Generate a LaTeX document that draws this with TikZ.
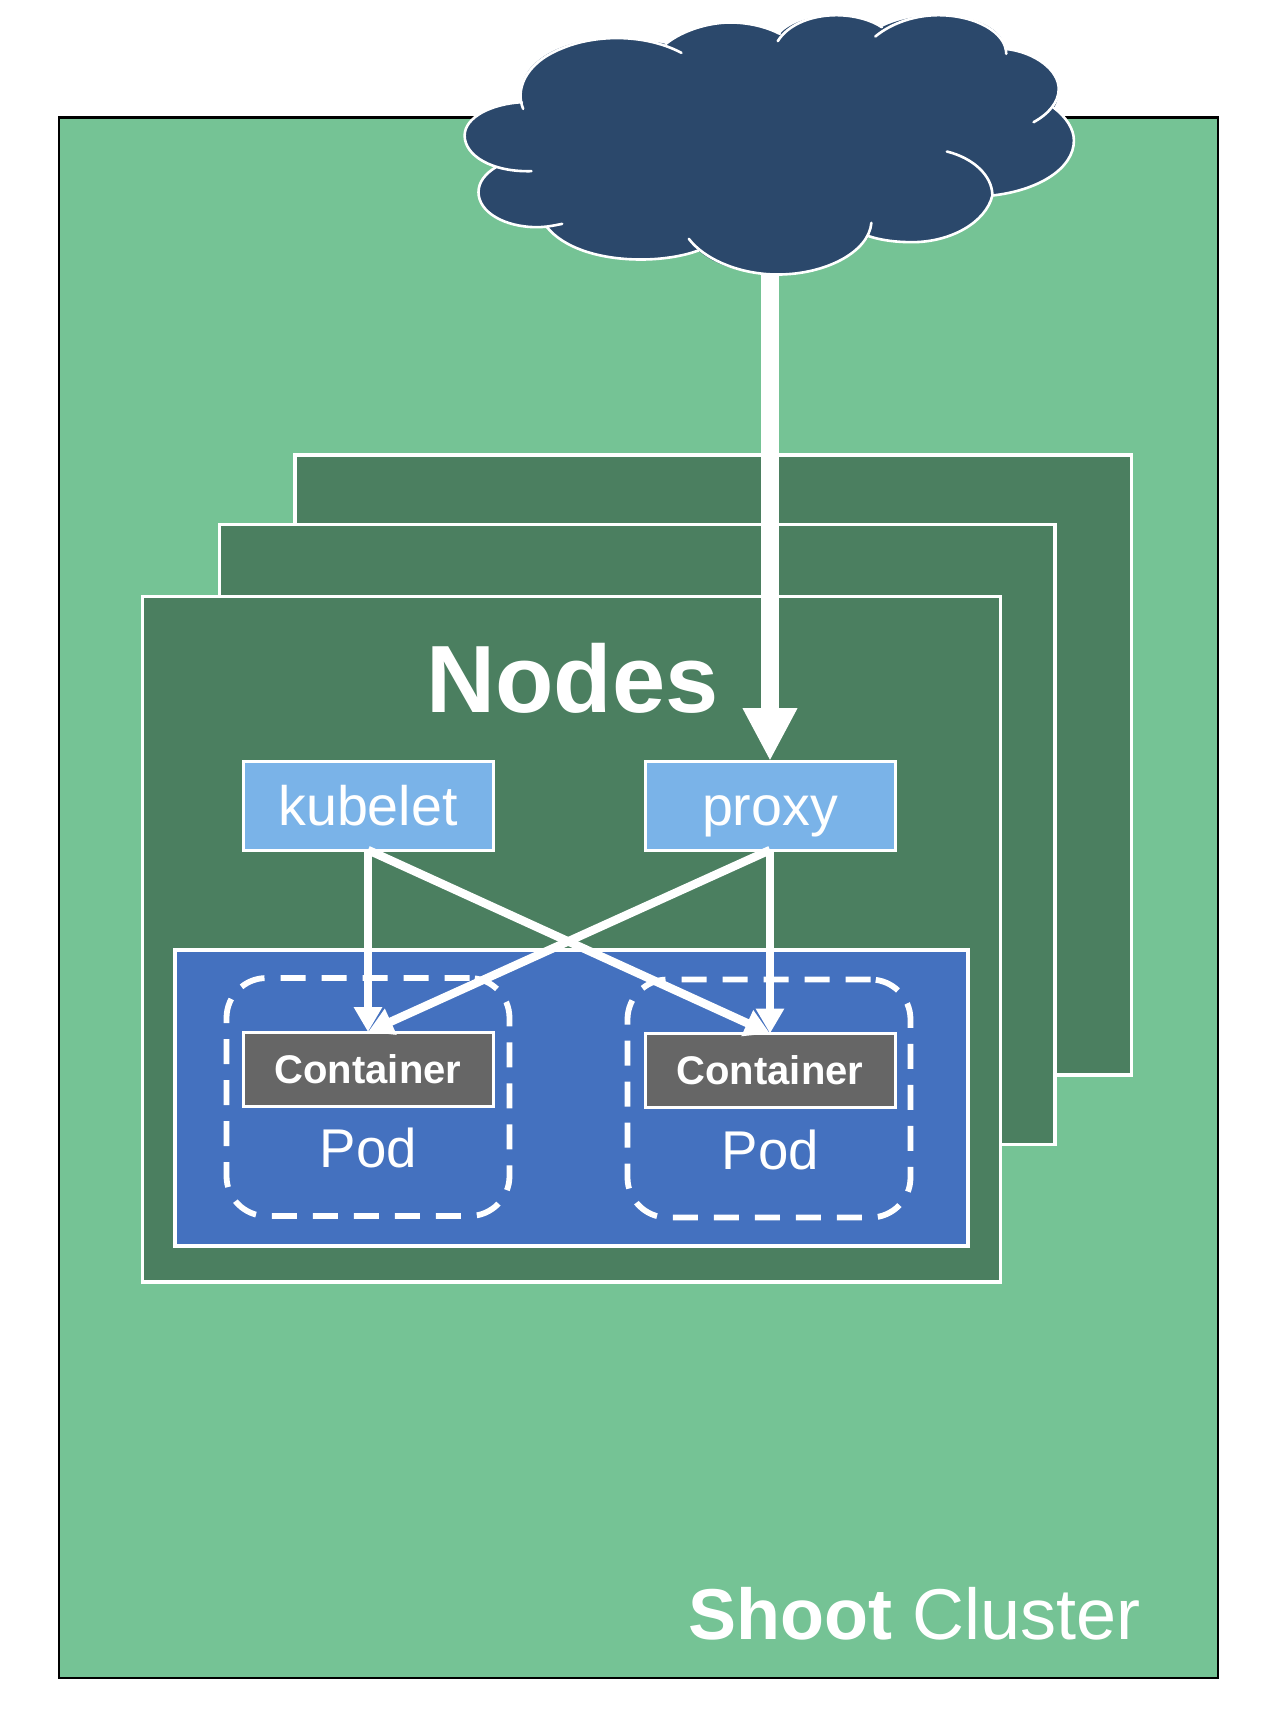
\documentclass[tikz,border=0pt]{standalone}
\usepackage{fontspec}
\setmainfont{Liberation Sans}
\usetikzlibrary{arrows.meta}
\definecolor{shootgreen}{HTML}{75C395}
\definecolor{nodegreen}{HTML}{4B7F60}
\definecolor{podblue}{HTML}{4471BF}
\definecolor{lightblue}{HTML}{7AB3E8}
\definecolor{contgrey}{HTML}{666666}
\definecolor{cloudblue}{HTML}{2B486B}
\tikzset{
  panel/.style={draw=white,line width=1.7pt,inner sep=0pt,outer sep=0pt,fill=nodegreen},
  svcbox/.style={draw=white,line width=1.5pt,fill=lightblue,inner sep=0pt,outer sep=0pt,minimum width=125pt,minimum height=44.5pt,text=white,font=\fontsize{27.8}{30}\selectfont,text height=20pt,text depth=0pt},
  contbox/.style={draw=white,line width=1.5pt,fill=contgrey,inner sep=0pt,outer sep=0pt,minimum width=125pt,minimum height=37pt,text=white,font=\fontsize{20}{22}\selectfont\bfseries,text height=14.2pt,text depth=0pt},
  podbox/.style={draw=white,line width=2.9pt,rounded corners=20pt,dash pattern=on 12.5pt off 8pt,inner sep=0pt,outer sep=0pt,minimum width=141.5pt,minimum height=119pt},
  podlabel/.style={text=white,inner sep=0pt,anchor=base,font=\fontsize{27.3}{30}\selectfont},
  thinarrow/.style={draw=white,line width=4.2pt,-{Triangle[length=12.5pt,width=13.5pt]}},
  bigarrow/.style={draw=white,line width=9.3pt,-{Triangle[length=26.5pt,width=25.5pt]}},
  lobe/.style={draw=white,line width=1.3pt,line cap=round},
}
\begin{document}
\begin{tikzpicture}[x=0.5pt,y=-0.5pt]
\useasboundingbox (0,0) rectangle (1270,1720);
\node[draw=black,line width=1.2pt,fill=shootgreen,inner sep=0pt,outer sep=0pt,minimum width=579.4pt,minimum height=780.3pt] (shoot) at (638.6,897.6) {};
\node[panel,minimum width=418.2pt,minimum height=309.9pt] (sheetc) at (713.1,764.9) {};
\node[panel,minimum width=417.9pt,minimum height=309.9pt] (sheetb) at (637.1,834.3) {};
\node[panel,minimum width=428.8pt,minimum height=342.7pt] (sheeta) at (571.4,939.3) {};
\node[panel,fill=podblue,minimum width=396.5pt,minimum height=148pt] (podarea) at (571.5,1098) {};
\node[text=white,inner sep=0pt,anchor=base,font=\fontsize{47.8}{50}\selectfont\bfseries] (nodestitle) at (572.5,712) {Nodes};
\node[svcbox] (kubelet) at (368,805.5) {kubelet};
\node[svcbox] (proxy) at (770,805.5) {proxy};
\node[podbox] (poda) at (368,1097) {};
\node[podbox] (podb) at (769,1098.5) {};
\node[contbox] (conta) at (368,1069) {Container};
\node[contbox] (contb) at (770,1070.5) {Container};
\node[podlabel] (podatext) at (368.5,1167) {Pod};
\node[podlabel] (podbtext) at (770.5,1169) {Pod};
\node[text=white,inner sep=0pt,anchor=base east,font=\fontsize{36}{38}\selectfont] (shootlabel) at (1141,1639.5) {\textbf{Shoot} Cluster};
% cloud
\begin{scope}[shift={(430.8,0.5)},x=0.21683pt,y=-0.16667pt]
\fill[cloudblue] (210,305)
  .. controls (190,190) and (300,113) .. (420,113)
  .. controls (465,113) and (510,122) .. (542,130)
  .. controls (580,90) and (640,66) .. (690,66)
  .. controls (735,66) and (775,80) .. (805,100)
  .. controls (830,65) and (880,44) .. (935,44)
  .. controls (975,44) and (1015,58) .. (1040,80)
  .. controls (1075,58) and (1120,44) .. (1170,44)
  .. controls (1255,44) and (1320,85) .. (1325,145)
  .. controls (1395,155) and (1448,210) .. (1448,265)
  .. controls (1448,285) and (1445,305) .. (1437,322)
  .. controls (1465,350) and (1483,385) .. (1483,420)
  .. controls (1483,505) and (1400,570) .. (1295,585)
  .. controls (1280,665) and (1200,725) .. (1110,725)
  .. controls (1075,725) and (1040,720) .. (1010,707)
  .. controls (980,775) and (895,822) .. (800,822)
  .. controls (725,822) and (655,795) .. (617,750)
  .. controls (580,768) and (530,777) .. (485,777)
  .. controls (385,777) and (305,740) .. (268,680)
  .. controls (180,690) and (110,640) .. (110,575)
  .. controls (110,545) and (125,520) .. (150,500)
  .. controls (105,480) and (78,445) .. (78,405)
  .. controls (78,350) and (140,310) .. (210,305) -- cycle;
\draw[lobe] (213,325) .. controls (195,270) and (215,190) .. (300,145) .. controls (380,100) and (495,100) .. (578,157);
\draw[lobe] (542,130) .. controls (580,90) and (640,66) .. (690,66) .. controls (735,66) and (775,80) .. (805,100);
\draw[lobe] (800,122) .. controls (825,70) and (880,44) .. (935,44) .. controls (975,44) and (1015,58) .. (1040,80);
\draw[lobe] (1025,108) .. controls (1065,65) and (1120,44) .. (1170,44) .. controls (1255,44) and (1327,95) .. (1327,160);
\draw[lobe] (1325,145) .. controls (1395,155) and (1448,210) .. (1448,265) .. controls (1448,305) and (1425,340) .. (1390,365);
\draw[lobe] (1437,322) .. controls (1465,350) and (1483,385) .. (1483,420) .. controls (1483,505) and (1400,570) .. (1295,585);
\draw[lobe] (1190,453) .. controls (1250,472) and (1295,525) .. (1295,585) .. controls (1280,665) and (1200,725) .. (1110,725) .. controls (1075,725) and (1040,720) .. (1010,707);
\draw[lobe] (1016,667) .. controls (1010,755) and (910,822) .. (800,822) .. controls (710,822) and (630,775) .. (595,715);
\draw[lobe] (617,750) .. controls (580,768) and (530,777) .. (485,777) .. controls (385,777) and (305,740) .. (268,680);
\draw[lobe] (303,670) .. controls (285,675) and (265,680) .. (245,680) .. controls (170,680) and (110,635) .. (110,575) .. controls (110,545) and (125,520) .. (150,500);
\draw[lobe] (232,512) .. controls (140,515) and (78,465) .. (78,405) .. controls (78,350) and (140,310) .. (210,305);
\coordinate (cloudbase) at (783,822);
\end{scope}
% connectors
\draw[bigarrow] (cloudbase -| proxy.north) -- (proxy.north);
\draw[thinarrow] (kubelet.south) -- (conta.north);
\draw[thinarrow] (kubelet.south) -- (contb.north);
\draw[thinarrow] (proxy.south) -- (conta.north);
\draw[thinarrow] (proxy.south) -- (contb.north);
\end{tikzpicture}
\end{document}
